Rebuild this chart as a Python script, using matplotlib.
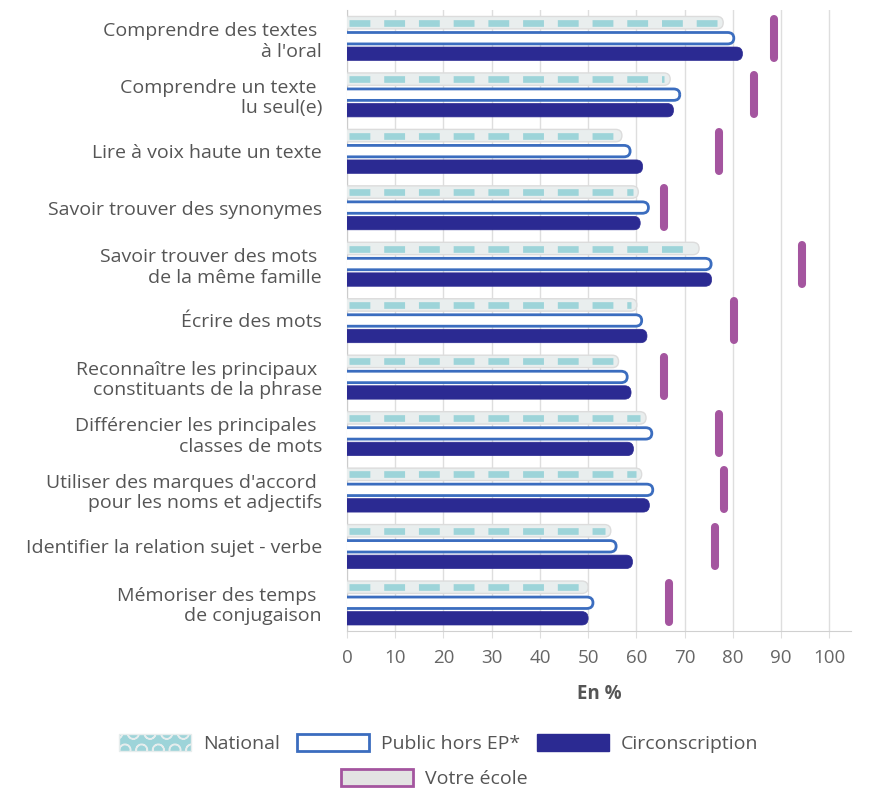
import numpy as np
import matplotlib
matplotlib.use('Agg')
import matplotlib.pyplot as plt
from matplotlib.patches import FancyBboxPatch, Patch

plt.rcParams['font.family'] = ['Open Sans', 'DejaVu Sans']
plt.rcParams['lines.scale_dashes'] = False

# Data (in %)
labels = [
    "Comprendre des textes \nà l'oral",
    "Comprendre un texte \nlu seul(e)",
    "Lire à voix haute un texte",
    "Savoir trouver des synonymes",
    "Savoir trouver des mots \nde la même famille",
    "Écrire des mots",
    "Reconnaître les principaux \nconstituants de la phrase",
    "Différencier les principales \nclasses de mots",
    "Utiliser des marques d'accord \npour les noms et adjectifs",
    "Identifier la relation sujet - verbe",
    "Mémoriser des temps \nde conjugaison",
]
national = [78, 67, 57, 60.4, 73, 60.1, 56.3, 62, 61.1, 54.7, 50]
public_hors_ep = [80.2, 69, 58.7, 62.5, 75.5, 61.1, 58.1, 63.2, 63.4, 55.8, 51]
circonscription = [82, 67.7, 61.3, 60.8, 75.6, 62.2, 58.9, 59.4, 62.7, 59.2, 50]
votre_ecole = [88.5, 84.4, 77.2, 65.8, 94.3, 80.2, 65.8, 77.2, 78.2, 76.4, 66.7]
xticks = [0, 10, 20, 30, 40, 50, 60, 70, 80, 90, 100]

C_TEAL = '#9dd4d9'
C_NAT_BG = '#e9eeee'
C_BLUE = '#3b6dbf'
C_NAVY = '#2b2a92'
C_PURPLE = '#a4559f'
C_TEXT = '#555555'
C_GRID = '#dedede'
FS = 14

fig = plt.figure(figsize=(8.69, 7.92), dpi=100)
ax = fig.add_axes([0.3993, 0.2033, 0.58, 0.7841])
ax.set_xlim(0, 104.5)
ax.set_ylim(10.5, -0.5)

# geometry: px per x unit ~4.83, px per row ~56.4
R = 1.3          # end radius in x units
H = 0.22         # bar height in rows
OFF = 0.275      # distance between bars of a group


def rounded_bar(y, val, h, fc, ec, lw, z):
    p = FancyBboxPatch((-R, y - h / 2), val + R, h,
                       boxstyle=f"round,pad=0,rounding_size={R}",
                       mutation_aspect=h / (2 * R),
                       fc=fc, ec=ec, lw=lw, zorder=z)
    ax.add_patch(p)


for i in range(len(labels)):
    # National: grey rounded bar with teal dashes
    rounded_bar(i - OFF, national[i], H, C_NAT_BG, '#dcdcdc', 1.0, 3)
    ax.plot([0.5, national[i] - 1.2], [i - OFF, i - OFF], color=C_TEAL,
            lw=4.8, dashes=(15, 10), dash_capstyle='butt', zorder=4)
    # Public hors EP: white with blue outline
    rounded_bar(i, public_hors_ep[i], H * 0.92, 'white', C_BLUE, 2.0, 3)
    # Circonscription: navy
    rounded_bar(i + OFF, circonscription[i], H * 1.08, C_NAVY, C_NAVY, 0.5, 3)
    # Votre école: vertical purple marker
    ax.plot([votre_ecole[i], votre_ecole[i]], [i - 0.345, i + 0.345],
            color=C_PURPLE, lw=5.8, solid_capstyle='round', zorder=4)

ax.set_xticks(xticks)
ax.grid(axis='x', color=C_GRID, lw=1, zorder=0)
ax.set_axisbelow(True)
ax.set_yticks(range(len(labels)))
ax.set_yticklabels(labels, fontsize=FS, color=C_TEXT, linespacing=1.18)
ax.tick_params(axis='y', length=0, pad=18)
ax.tick_params(axis='x', length=5, color=C_GRID, labelsize=13.5,
               labelcolor='#666666', pad=8)
for s in ['top', 'right']:
    ax.spines[s].set_visible(False)
ax.spines['left'].set_color('#cccccc')
ax.spines['bottom'].set_color('#d0d0d0')
ax.set_xlabel('En %', fontsize=13.5, color=C_TEXT, fontweight='bold',
              labelpad=12)

h1 = [Patch(fc=C_TEAL, ec='#e6eded', hatch='O', lw=1.0, label='National'),
      Patch(fc='white', ec=C_BLUE, lw=2, label='Public hors EP*'),
      Patch(fc=C_NAVY, ec=C_NAVY, label='Circonscription')]
leg1 = fig.legend(handles=h1, loc='center', bbox_to_anchor=(0.505, 0.061),
                  ncol=3, frameon=False, fontsize=FS, handlelength=3.7,
                  handleheight=1.0, columnspacing=0.9, handletextpad=0.6)
for t in leg1.get_texts():
    t.set_color(C_TEXT)
h2 = [Patch(fc='#e3e3e3', ec=C_PURPLE, lw=2, label='Votre école')]
leg2 = fig.legend(handles=h2, loc='center', bbox_to_anchor=(0.5, 0.017),
                  frameon=False, fontsize=FS, handlelength=3.7,
                  handleheight=1.0, handletextpad=0.6)
for t in leg2.get_texts():
    t.set_color(C_TEXT)

fig.savefig('out.png', dpi=100)
